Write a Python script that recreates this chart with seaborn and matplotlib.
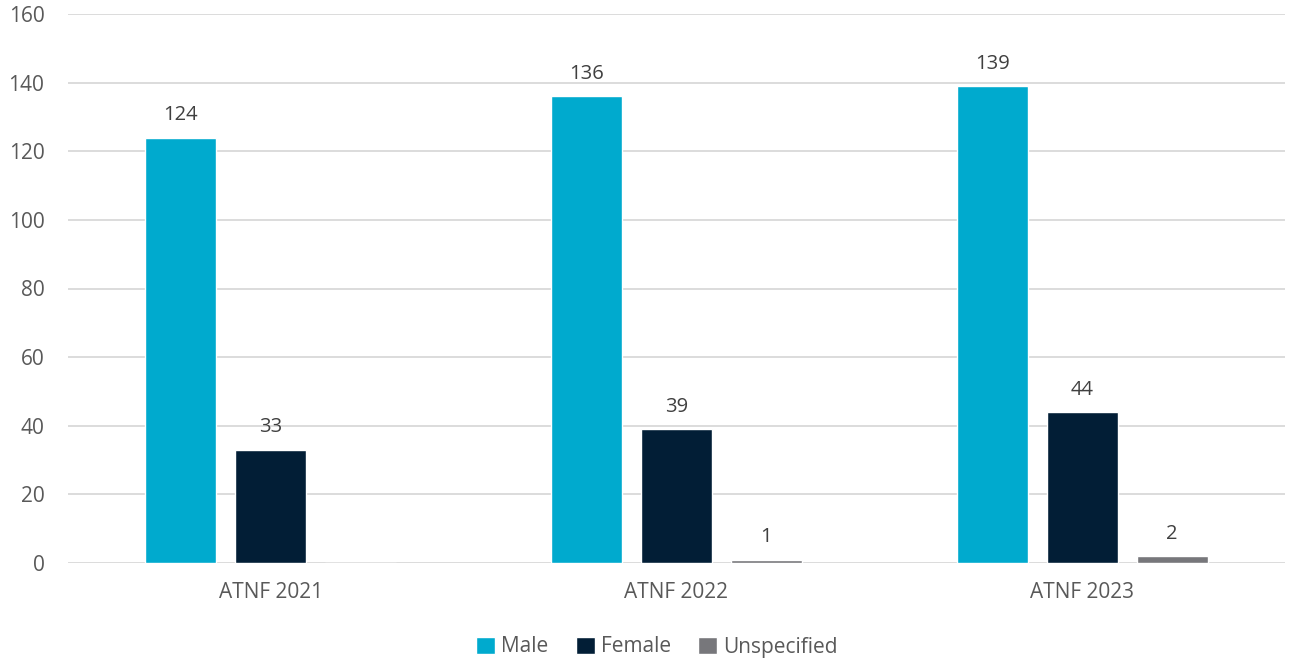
import matplotlib
matplotlib.use("Agg")
import matplotlib.pyplot as plt
import seaborn as sns
import pandas as pd
from matplotlib.patches import Patch

categories = ["ATNF 2021", "ATNF 2022", "ATNF 2023"]
genders = ["Male", "Female", "Unspecified"]
male = [124, 136, 139]
female = [33, 39, 44]
unspecified = [0, 1, 2]
yticks = [0, 20, 40, 60, 80, 100, 120, 140, 160]

colors = {"Male": "#00AACE", "Female": "#021E36", "Unspecified": "#77777B"}

rows = []
for g, vals in zip(genders, [male, female, unspecified]):
    for c, v in zip(categories, vals):
        rows.append({"Year": c, "Gender": g, "Count": v})
df = pd.DataFrame(rows)

sns.set_theme(style="white")
plt.rcParams["font.family"] = ["Open Sans", "DejaVu Sans"]

fig = plt.figure(figsize=(12.9, 6.6), dpi=100)
ax = fig.add_axes([68 / 1290, 1 - 563 / 660, (1285 - 68) / 1290, (563 - 14) / 660])

sns.barplot(data=df, x="Year", y="Count", hue="Gender", order=categories,
            hue_order=genders, palette=colors, width=0.665, gap=0.21,
            saturation=1, errorbar=None, legend=False, ax=ax)

# value labels above each non-zero bar
for container in ax.containers:
    labels = [f"{int(b.get_height())}" if b.get_height() > 0 else "" for b in container]
    ax.bar_label(container, labels=labels, padding=9, fontsize=14.5, color="#404040")

ax.set_ylim(0, 160)
ax.set_yticks(yticks)
ax.set_xlim(-0.5, 2.5)
ax.yaxis.grid(True, color="#D9D9D9", linewidth=1.3)
ax.set_axisbelow(True)
for s in ax.spines.values():
    s.set_visible(False)
ax.set_xlabel("")
ax.set_ylabel("")
ax.tick_params(axis="y", labelsize=15, labelcolor="#595959", length=0, pad=17)
ax.tick_params(axis="x", labelsize=15, labelcolor="#595959", length=0, pad=14)

handles = [Patch(facecolor=colors[g], label=g) for g in genders]
fig.legend(handles=handles, loc="center", bbox_to_anchor=(657 / 1290, 1 - 647 / 660),
           ncol=3, frameon=False, fontsize=15, labelcolor="#595959",
           handlelength=0.9, handleheight=0.9, handletextpad=0.3, columnspacing=1.3)

fig.savefig("out.png", dpi=100)
